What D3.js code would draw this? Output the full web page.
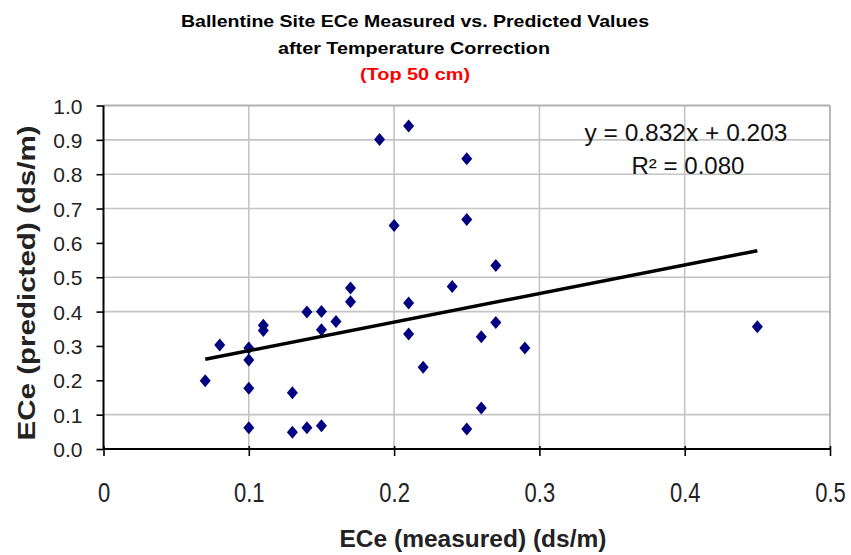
<!DOCTYPE html>
<html><head><meta charset="utf-8">
<script src="https://cdn.jsdelivr.net/npm/d3@7"></script>
<style>body{margin:0;background:#fff}svg{display:block}text{font-family:"Liberation Sans",Arial,sans-serif}</style>
</head><body><div id="chart"></div>
<script>
const titleLines = ["Ballentine Site ECe Measured vs. Predicted Values", "after Temperature Correction"];
const subtitle = "(Top 50 cm)";
const xLabel = "ECe (measured) (ds/m)";
const yLabel = "ECe (predicted) (ds/m)";
const xTicks = [0, 0.1, 0.2, 0.3, 0.4, 0.5];
const xTickLabels = ["0", "0.1", "0.2", "0.3", "0.4", "0.5"];
const yTicks = [0, 0.1, 0.2, 0.3, 0.4, 0.5, 0.6, 0.7, 0.8, 0.9, 1.0];
const yTickLabels = ["0.0","0.1","0.2","0.3","0.4","0.5","0.6","0.7","0.8","0.9","1.0"];
const yGridVisible = [0.1, 0.4, 0.5, 0.7, 0.8, 0.9];
const xGridVisible = [0.1, 0.2, 0.3, 0.4];
const measured = [0.17,0.17,0.14,0.15,0.16,0.15,0.11,0.11,0.08,0.10,0.10,0.07,0.10,0.13,0.10,0.13,0.14,0.15,
                  0.19,0.21,0.25,0.20,0.25,0.27,0.24,0.21,0.21,0.22,0.27,0.26,0.29,0.26,0.25,0.45];
const predicted = [0.469,0.429,0.399,0.400,0.371,0.347,0.345,0.360,0.303,0.294,0.259,0.199,0.177,0.164,0.062,0.049,0.062,0.068,
                   0.901,0.940,0.845,0.651,0.668,0.534,0.473,0.425,0.335,0.238,0.368,0.327,0.294,0.119,0.058,0.356];
const slope = 0.832, intercept = 0.203;
const trendRange = [0.07, 0.45];
const eqText = ["y = 0.832x + 0.203", "R\u00b2 = 0.080"];

const W = 851, H = 555;
const svg = d3.select("#chart").append("svg").attr("width", W).attr("height", H);
const x = d3.scaleLinear().domain([0, 0.5]).range([103.5, 830]);
const y = d3.scaleLinear().domain([0, 1]).range([449, 105.5]);

// title
svg.append("text").attr("x", 415).attr("y", 27).attr("text-anchor", "middle")
  .attr("font-size", 17).attr("font-weight", "bold").attr("textLength", 468).attr("lengthAdjust","spacingAndGlyphs")
  .text(titleLines[0]);
svg.append("text").attr("x", 414).attr("y", 54).attr("text-anchor", "middle")
  .attr("font-size", 17).attr("font-weight", "bold").attr("textLength", 272).attr("lengthAdjust","spacingAndGlyphs")
  .text(titleLines[1]);
svg.append("text").attr("x", 415).attr("y", 80).attr("text-anchor", "middle")
  .attr("font-size", 17).attr("font-weight", "bold").attr("fill", "#ff0000").attr("textLength", 110).attr("lengthAdjust","spacingAndGlyphs")
  .text(subtitle);

// gridlines
const g = svg.append("g");
g.selectAll(".hg").data(yGridVisible).join("line")
  .attr("x1", x(0)).attr("x2", x(0.5)).attr("y1", d => y(d)).attr("y2", d => y(d))
  .attr("stroke", "#c4c4c4").attr("stroke-width", 1.6);
g.selectAll(".vg").data(xGridVisible).join("line")
  .attr("y1", y(0)).attr("y2", y(1)).attr("x1", d => x(d)).attr("x2", d => x(d))
  .attr("stroke", "#c4c4c4").attr("stroke-width", 1.6);
g.append("line").attr("x1", x(0)).attr("x2", x(0.5)).attr("y1", y(1)).attr("y2", y(1)).attr("stroke", "#b0b0b0").attr("stroke-width", 1.8);
g.append("line").attr("x1", x(0.5)).attr("x2", x(0.5)).attr("y1", y(1)).attr("y2", y(0)).attr("stroke", "#b0b0b0").attr("stroke-width", 1.8);

// axes
const xAxis = svg.append("g").attr("transform", `translate(0,${y(0)})`)
  .call(d3.axisBottom(x).tickValues(xTicks).tickSize(7).tickFormat((d,i) => xTickLabels[i]));
xAxis.select(".domain").attr("stroke", "#000").attr("stroke-width", 2).attr("d", `M${x(0)},0H${x(0.5)}`);
xAxis.selectAll(".tick line").attr("stroke", "#000").attr("stroke-width", 1.6).attr("y1", -3);
xAxis.selectAll(".tick text").attr("font-size", 22).attr("fill", "#222").attr("dy", 0).attr("y", 0)
  .attr("transform", "translate(0,53) scale(1,1.22)")
  .attr("font-family", "Liberation Sans, Arial, sans-serif");

const yAxis = svg.append("g").attr("transform", `translate(${x(0)},0)`)
  .call(d3.axisLeft(y).tickValues(yTicks).tickSize(7).tickFormat((d,i) => yTickLabels[i]));
yAxis.select(".domain").attr("stroke", "#000").attr("stroke-width", 2).attr("d", `M0,${y(1)}V${y(0)}`);
yAxis.selectAll(".tick line").attr("stroke", "#000").attr("stroke-width", 1.6);
yAxis.selectAll(".tick text").attr("font-size", 21).attr("fill", "#222").attr("x", -21).attr("dy", "0.36em")
  .attr("font-family", "Liberation Sans, Arial, sans-serif");

// axis titles
svg.append("text").attr("x", 473).attr("y", 547).attr("text-anchor", "middle")
  .attr("font-size", 23).attr("font-weight", "bold").attr("fill", "#222").attr("textLength", 267).attr("lengthAdjust","spacingAndGlyphs")
  .text(xLabel);
svg.append("text").attr("transform", "translate(35,283) rotate(-90)").attr("text-anchor", "middle")
  .attr("font-size", 24).attr("font-weight", "bold").attr("fill", "#222").attr("textLength", 315).attr("lengthAdjust","spacingAndGlyphs")
  .text(yLabel);

// points
const pts = measured.map((m, i) => ({m, p: predicted[i]}));
svg.append("g").selectAll("path").data(pts).join("path")
  .attr("transform", d => `translate(${x(d.m)},${y(d.p)})`)
  .attr("d", "M0,-6.5L5.5,0L0,6.5L-5.5,0Z")
  .attr("fill", "#000080");

// trendline
svg.append("line")
  .attr("x1", x(trendRange[0])).attr("y1", y(slope * trendRange[0] + intercept))
  .attr("x2", x(trendRange[1])).attr("y2", y(slope * trendRange[1] + intercept))
  .attr("stroke", "#000").attr("stroke-width", 3.5);

// equation
svg.append("text").attr("x", 686).attr("y", 141).attr("text-anchor", "middle")
  .attr("font-size", 23).attr("fill", "#111").attr("textLength", 203).attr("lengthAdjust","spacingAndGlyphs").text(eqText[0]);
svg.append("text").attr("x", 688).attr("y", 174).attr("text-anchor", "middle")
  .attr("font-size", 23).attr("fill", "#111").attr("textLength", 113).attr("lengthAdjust","spacingAndGlyphs").text(eqText[1]);
</script></body></html>
